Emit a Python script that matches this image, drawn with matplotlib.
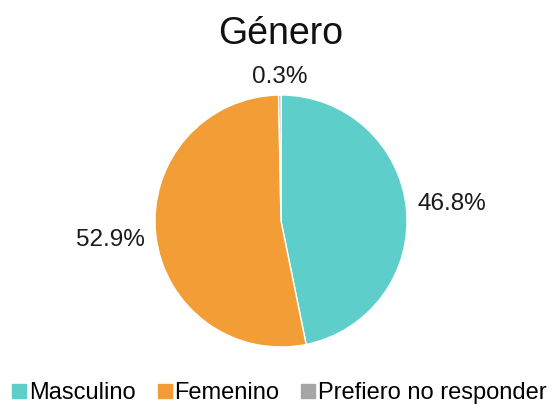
import numpy as np
import matplotlib.pyplot as plt
from matplotlib.lines import Line2D

plt.rcParams['font.family'] = ['Liberation Sans', 'DejaVu Sans']

categorias = ["Masculino", "Femenino", "Prefiero no responder"]
porcentajes = [46.8, 52.9, 0.3]
colores = ["#5ECECB", "#F29D36", "#A5A5A5"]
titulo = "Género"

fig = plt.figure(figsize=(5.57, 4.05), dpi=100)
ax = fig.add_axes([153 / 557, 58 / 405, 256 / 557, 252 / 405])

wedges, _ = ax.pie(porcentajes, colors=colores, startangle=90, counterclock=False,
                   wedgeprops=dict(edgecolor="white", linewidth=1.0))
ax.set_xlim(-1, 1)
ax.set_ylim(-1, 1)
ax.set_aspect("equal")
ax.axis("off")

# etiquetas de porcentaje fuera del pastel
dist = [1.36, 1.36, 1.14]
for w, p, d in zip(wedges, porcentajes, dist):
    ang = np.deg2rad((w.theta1 + w.theta2) / 2)
    ax.text(d * np.cos(ang), d * np.sin(ang), f"{p:.1f}%", ha="center", va="center",
            fontsize=17.5, color="#1a1a1a", clip_on=False)

fig.text(0.503, (405 - 44) / 405, titulo, ha="center", va="baseline", fontsize=27, color="#111111")

handles = [Line2D([], [], linestyle="none", marker="s", markersize=9.4,
                  markerfacecolor=c, markeredgecolor=c) for c in colores]
fig.legend(handles, categorias, loc="center", bbox_to_anchor=(0.502, 0.03), ncol=3,
           frameon=False, fontsize=17, handlelength=0.55, handletextpad=0.13,
           columnspacing=0.95, borderpad=0, borderaxespad=0)

fig.savefig("out.png", dpi=100)
